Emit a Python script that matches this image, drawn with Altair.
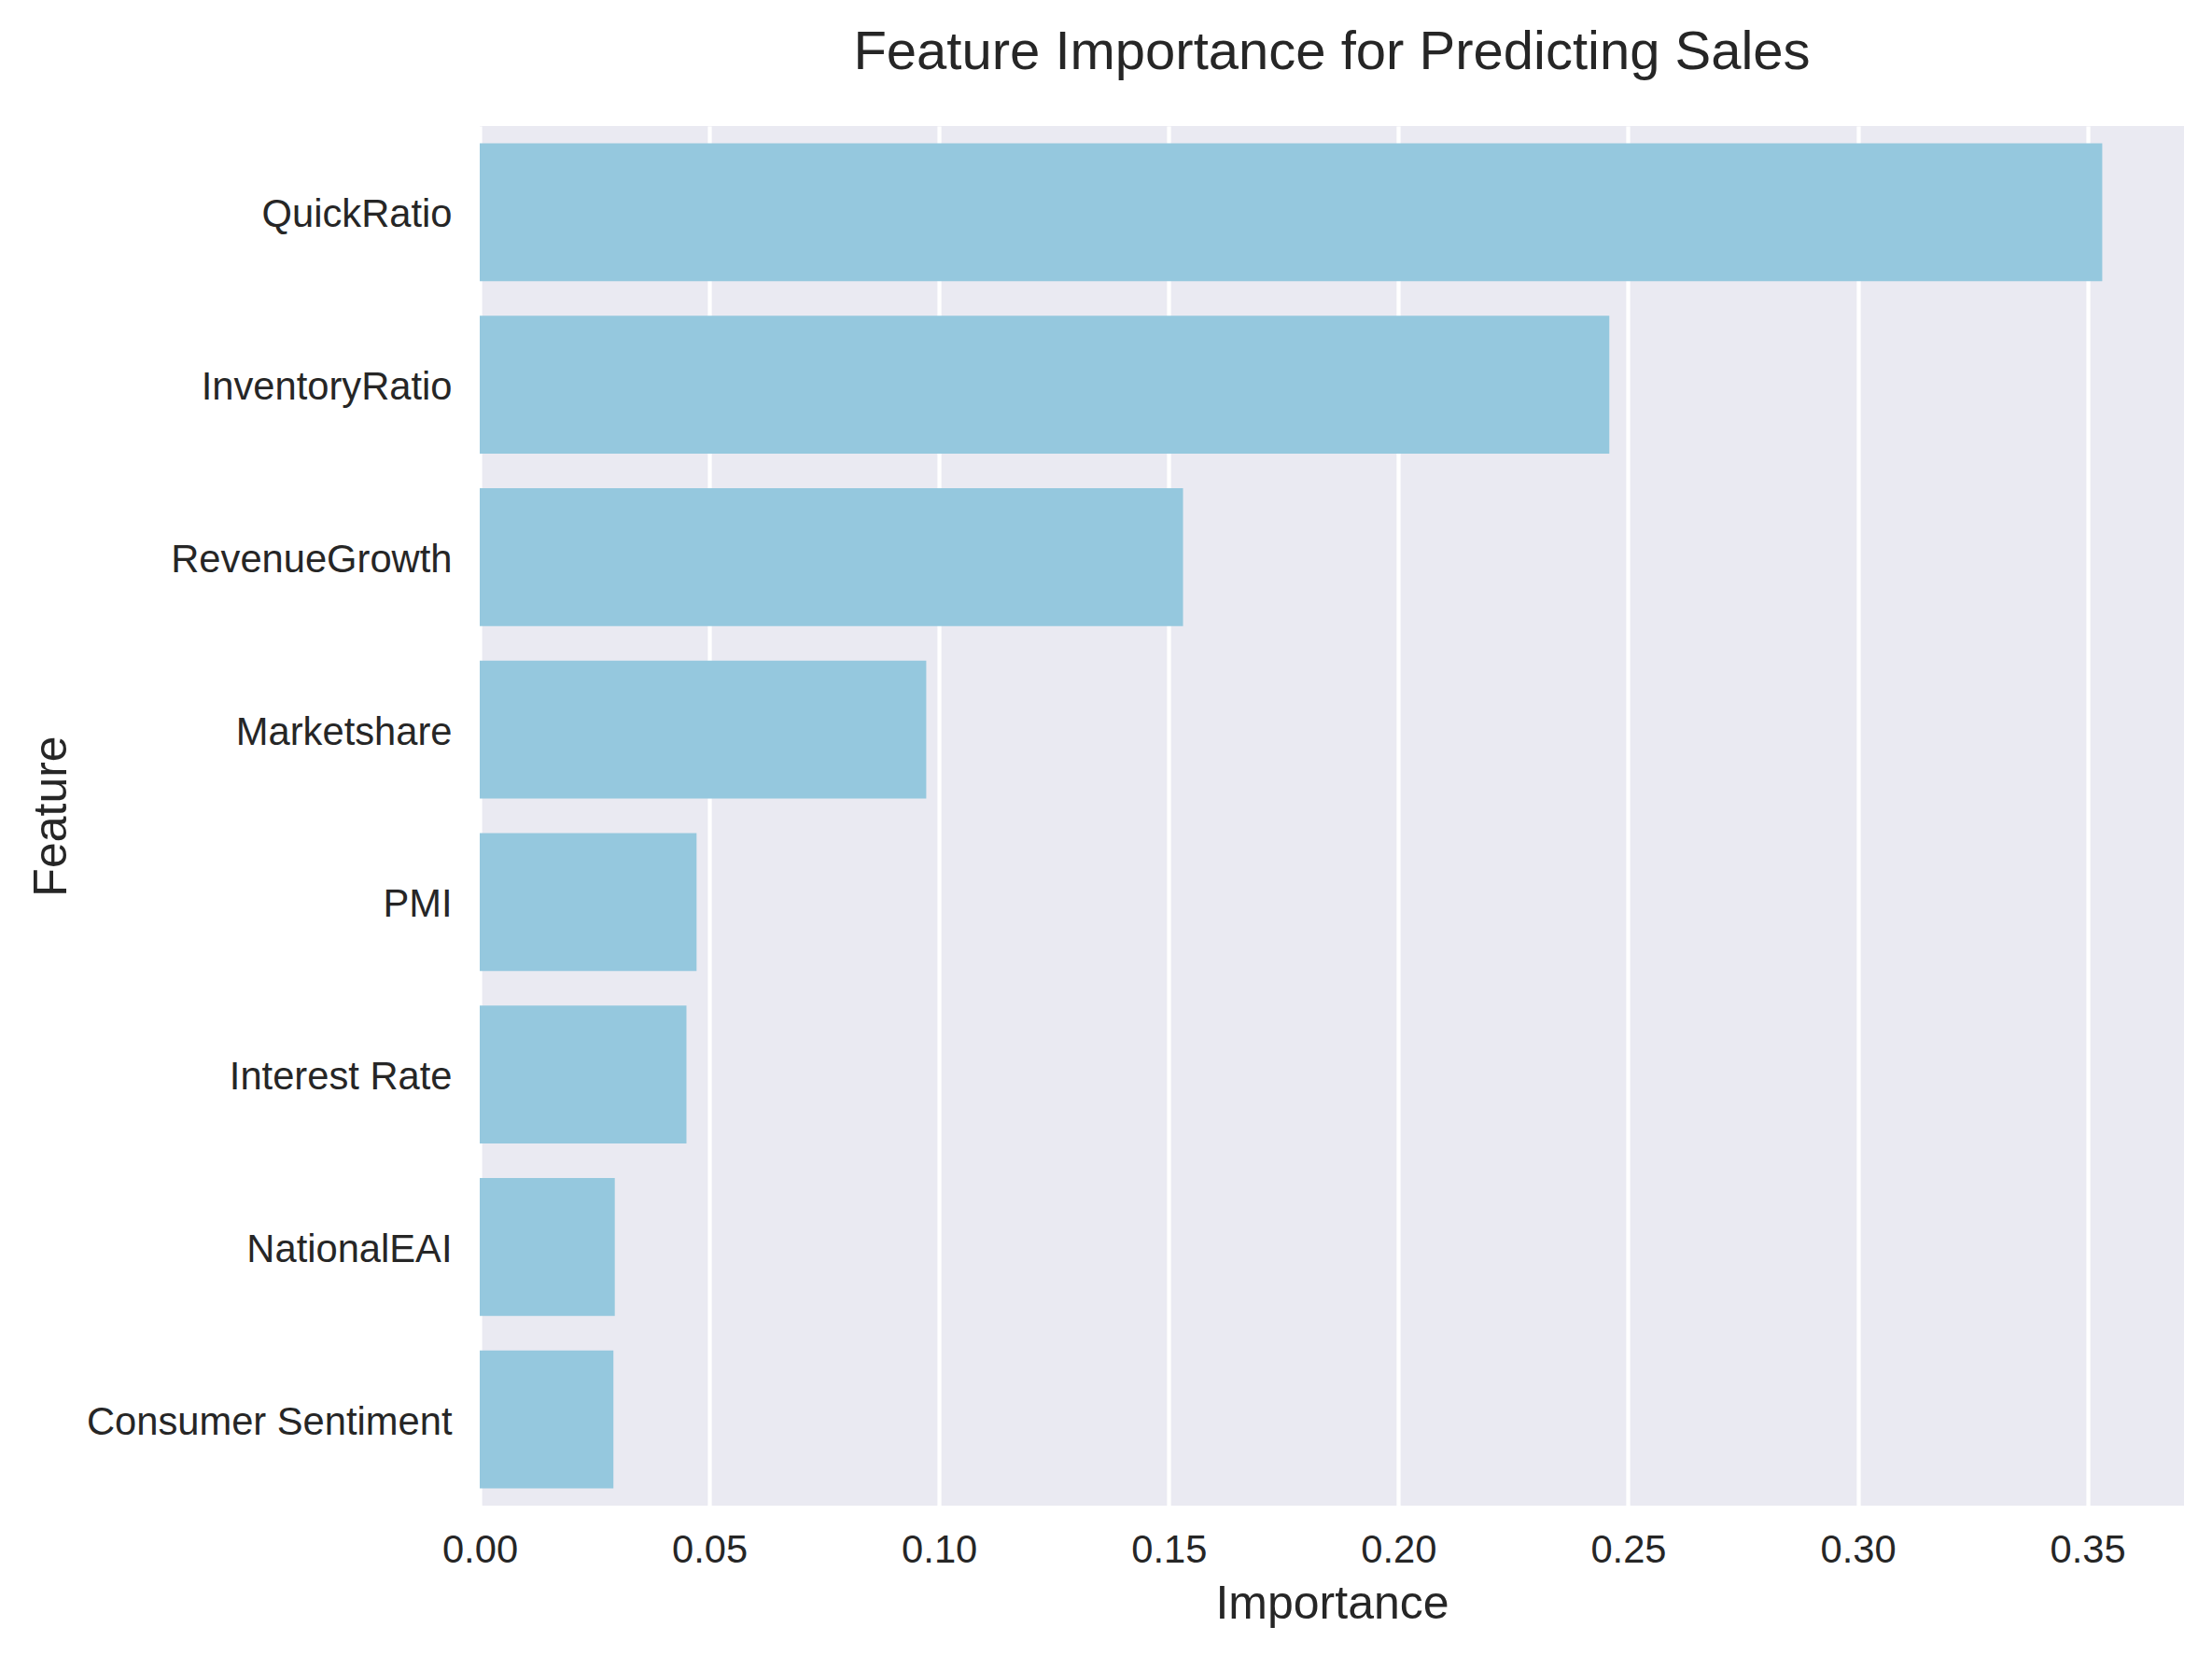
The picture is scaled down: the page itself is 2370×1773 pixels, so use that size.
import altair as alt
import pandas as pd

features = ["QuickRatio", "InventoryRatio", "RevenueGrowth", "Marketshare",
            "PMI", "Interest Rate", "NationalEAI", "Consumer Sentiment"]
importance = [0.3532, 0.2459, 0.1531, 0.0972, 0.0472, 0.0450, 0.0294, 0.0291]
x_ticks = [0.0, 0.05, 0.10, 0.15, 0.20, 0.25, 0.30, 0.35]

df = pd.DataFrame({"Feature": features, "Importance": importance})

FONT = "Liberation Sans"
TXT = "#262626"
W, H = 1826, 1478

chart = alt.Chart(df).mark_bar(color="#95c8de").encode(
    x=alt.X("Importance:Q",
            scale=alt.Scale(domain=[0, 0.371], nice=False, zero=True),
            axis=alt.Axis(values=x_ticks, format=".2f", grid=True,
                          gridColor="white", gridWidth=4.2, gridOpacity=1,
                          ticks=False, tickSize=0, domain=False,
                          labelFlush=False,
                          labelFont=FONT, labelFontSize=41.7, labelColor=TXT,
                          labelBaseline="alphabetic", labelPadding=60,
                          title="Importance", titleFont=FONT, titleFontSize=50,
                          titleFontWeight="normal", titleColor=TXT,
                          titleX=W / 2, titleY=120, titleAlign="center",
                          titleBaseline="alphabetic")),
    y=alt.Y("Feature:N", sort=features,
            scale=alt.Scale(paddingInner=0.2, paddingOuter=0.1),
            axis=alt.Axis(grid=False, ticks=False, tickSize=0, domain=False,
                          labelFont=FONT, labelFontSize=41.7, labelColor=TXT,
                          labelAlign="right", labelBaseline="alphabetic",
                          labelOffset=16, labelPadding=30, labelLimit=0,
                          title="Feature", titleFont=FONT, titleFontSize=50,
                          titleFontWeight="normal", titleColor=TXT,
                          titleAngle=270, titleX=-444, titleY=H / 2,
                          titleAlign="center", titleBaseline="alphabetic")),
).properties(
    width=W, height=H,
    background="white",
    title=alt.TitleParams("Feature Importance for Predicting Sales",
                          font=FONT, fontSize=58, fontWeight="normal",
                          color=TXT, anchor="middle", frame="group",
                          baseline="alphabetic", offset=3),
    autosize=alt.AutoSizeParams(type="none"),
    padding={"left": 506, "top": 127, "right": 15, "bottom": 140},
).configure_view(
    fill="#eaeaf2", stroke=None
)

chart.save("out.html", embed_options={"renderer": "svg", "actions": False})
